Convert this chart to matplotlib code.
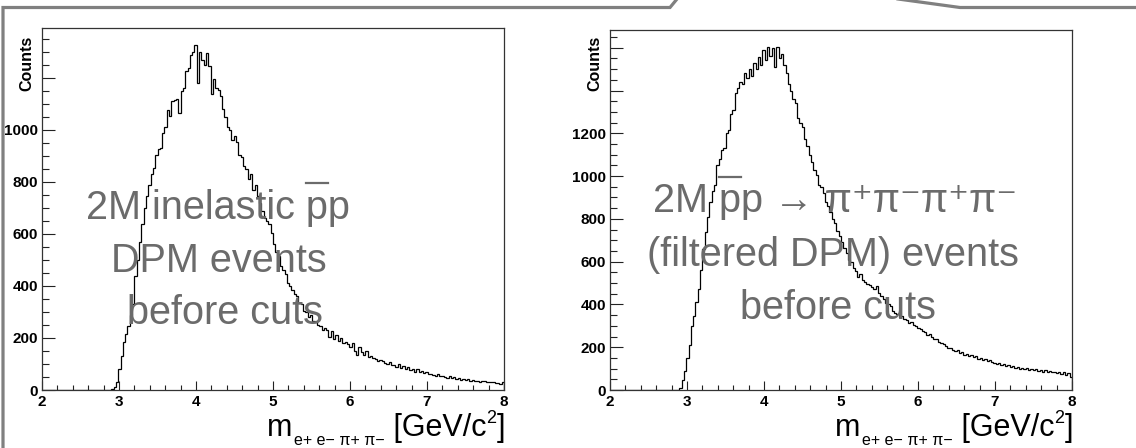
import numpy as np
import matplotlib
matplotlib.use("Agg")
import matplotlib.pyplot as plt
from matplotlib.lines import Line2D
from matplotlib.ticker import MultipleLocator, FixedLocator

plt.rcParams['font.family'] = ['Liberation Sans', 'DejaVu Sans']

# ---------------- data ----------------
bin_edges = np.linspace(2.0, 8.0, 201)   # 200 bins of 0.03 GeV/c^2

counts_inelastic = [
    0, 0, 0, 0, 0, 0, 0, 0, 0, 0,
    0, 0, 0, 0, 0, 0, 0, 0, 0, 0,
    0, 0, 0, 0, 0, 0, 0, 0, 0, 0,
    5, 10, 30, 80, 130, 185, 215, 245, 290, 330,
    440, 500, 570, 640, 700, 745, 790, 830, 855, 905,
    925, 930, 990, 1010, 1075, 1055, 1110, 1115, 1120, 1065,
    1150, 1160, 1225, 1240, 1290, 1300, 1327, 1180, 1300, 1270,
    1250, 1295, 1245, 1140, 1195, 1160, 1155, 1130, 1080, 1050,
    1010, 1000, 960, 975, 955, 905, 895, 860, 850, 810,
    830, 770, 790, 745, 720, 690, 660, 650, 640, 605,
    560, 530, 515, 475, 460, 445, 410, 400, 385, 370,
    360, 335, 330, 305, 300, 280, 290, 265, 262, 250,
    245, 230, 238, 232, 205, 225, 195, 210, 188, 200,
    180, 185, 175, 165, 180, 150, 135, 165, 145, 135,
    150, 128, 130, 122, 118, 112, 115, 110, 105, 100,
    108, 95, 98, 90, 100, 85, 92, 80, 88, 75,
    82, 70, 80, 68, 72, 65, 68, 60, 62, 58,
    55, 60, 52, 55, 50, 48, 52, 45, 50, 42,
    46, 40, 44, 38, 42, 36, 40, 34, 36, 32,
    35, 33, 30, 32, 29, 30, 27, 28, 22, 30,
]

counts_4pi = [
    0, 0, 0, 0, 0, 0, 0, 0, 0, 0,
    0, 0, 0, 0, 0, 0, 0, 0, 0, 0,
    0, 0, 0, 0, 0, 0, 0, 0, 0, 0,
    10, 45, 90, 150, 210, 300, 345, 410, 470, 560,
    660, 740, 810, 880, 930, 960, 1050, 1080, 1120, 1130,
    1200, 1215, 1290, 1310, 1390, 1410, 1440, 1430, 1480, 1460,
    1500, 1470, 1530, 1500, 1555, 1520, 1590, 1545, 1605, 1560,
    1600, 1510, 1605, 1550, 1570, 1520, 1480, 1430, 1400, 1360,
    1340, 1270, 1250, 1230, 1175, 1140, 1100, 1065, 1030, 1005,
    960, 950, 920, 880, 860, 830, 800, 780, 745, 720,
    690, 665, 640, 610, 600, 570, 555, 530, 540, 515,
    505, 495, 490, 480, 470, 485, 455, 440, 425, 405,
    400, 395, 370, 360, 355, 340, 345, 330, 325, 315,
    320, 305, 300, 290, 285, 275, 270, 258, 262, 250,
    240, 238, 225, 220, 215, 205, 198, 195, 185, 180,
    185, 172, 178, 165, 170, 160, 165, 152, 158, 145,
    150, 140, 145, 135, 140, 130, 128, 122, 125, 118,
    120, 112, 118, 108, 112, 104, 108, 100, 105, 97,
    102, 95, 99, 92, 96, 90, 94, 86, 92, 84,
    88, 82, 86, 80, 84, 76, 82, 72, 78, 60,
]

xticks = [2, 3, 4, 5, 6, 7, 8]
xticklabels = ['2', '3', '4', '5', '6', '7', '8']
left_yticks = [0, 200, 400, 600, 800, 1000, 1200]
left_yticklabels = ['0', '200', '400', '600', '800', '1000', '']
right_yticks = [0, 200, 400, 600, 800, 1000, 1200, 1400, 1600]
right_yticklabels = ['0', '200', '400', '600', '800', '1000', '1200', '', '']

left_lines = ["2M inelastic pp", "DPM events", "before cuts"]
right_lines = ["2M pp \u2192 \u03c0\u207a\u03c0\u207b\u03c0\u207a\u03c0\u207b",
               "(filtered DPM) events", "before cuts"]
ylabel_text = "Counts"

# ---------------- layout ----------------
W, H = 1136, 448
fig = plt.figure(figsize=(W / 100, H / 100), dpi=100)


def fx(x):
    return x / W


def fy(y):
    return 1 - y / H


GRAY_TXT = '#6b6b6b'
GRAY_BOX = '#808080'
TICK_FS = 11

panels = [
    dict(x0=42, top=28, counts=counts_inelastic, ymax=1392,
         yt=left_yticks, ytl=left_yticklabels),
    dict(x0=610, top=30, counts=counts_4pi, ymax=1683,
         yt=right_yticks, ytl=right_yticklabels),
]

axes = []
for p in panels:
    ax = fig.add_axes([fx(p['x0']), fy(390), 462 / W, (390 - p['top']) / H])
    ax.stairs(p['counts'], bin_edges, color='black', lw=0.9)
    ax.set_xlim(2, 8)
    ax.set_ylim(0, p['ymax'])
    ax.xaxis.set_major_locator(FixedLocator(xticks))
    ax.set_xticklabels(xticklabels, fontweight='bold', fontsize=TICK_FS)
    ax.xaxis.set_minor_locator(MultipleLocator(0.2))
    ax.yaxis.set_major_locator(FixedLocator(p['yt']))
    ax.set_yticklabels(p['ytl'], fontweight='bold', fontsize=TICK_FS)
    ax.yaxis.set_minor_locator(MultipleLocator(50))
    ax.tick_params(axis='x', which='major', direction='in', length=6.5,
                   width=0.8, pad=3.5, top=False, color='#222222')
    ax.tick_params(axis='x', which='minor', direction='in', length=3.4,
                   width=0.8, top=False, color='#222222')
    ax.tick_params(axis='y', which='major', direction='in', length=9.5,
                   width=0.8, pad=3, right=False, color='#222222')
    ax.tick_params(axis='y', which='minor', direction='in', length=5,
                   width=0.8, right=False, color='#222222')
    for s in ax.spines.values():
        s.set_color('#333333')
        s.set_linewidth(0.9)
    axes.append(ax)
    fig.text(fx(p['x0'] - 15), fy(36), ylabel_text, rotation=90,
             ha='center', va='top', fontsize=11.5, fontweight='bold')

# callout outline
fig.add_artist(Line2D([fx(677), fx(670), fx(3), fx(3)],
                      [fy(-1), fy(7.5), fy(7.5), fy(449)],
                      transform=fig.transFigure, color=GRAY_BOX, lw=2.3,
                      solid_joinstyle='miter'))
fig.add_artist(Line2D([fx(898), fx(960), fx(1137)],
                      [fy(-1), fy(7.5), fy(7.5)],
                      transform=fig.transFigure, color=GRAY_BOX, lw=2.3,
                      solid_joinstyle='miter'))

# overlay texts
FS = 28.5
left_cx = [218, 219, 225]
left_base = [219, 272, 324]
right_cx = [835, 833, 838]
right_base = [212, 266, 319]
ltexts = [fig.text(fx(cx), fy(b), s, ha='center', va='baseline',
                   fontsize=FS, color=GRAY_TXT, zorder=10)
          for s, cx, b in zip(left_lines, left_cx, left_base)]
rtexts = [fig.text(fx(cx), fy(b), s, ha='center', va='baseline',
                   fontsize=FS, color=GRAY_TXT, zorder=10)
          for s, cx, b in zip(right_lines, right_cx, right_base)]

fig.canvas.draw()
renderer = fig.canvas.get_renderer()


def text_width(s, size, weight='normal'):
    t = fig.text(0, 0, s, fontsize=size, fontweight=weight)
    w = t.get_window_extent(renderer).width
    t.remove()
    return w


wp = text_width("p", FS)
# overline on first p of "pp" (left)
bb = ltexts[0].get_window_extent(renderer)
x_first_p = bb.x1 - text_width("pp", FS)
fig.add_artist(Line2D([x_first_p / W, (x_first_p + wp) / W],
                      [fy(left_base[0] - 36)] * 2, transform=fig.transFigure,
                      color=GRAY_TXT, lw=1.6, zorder=11))
bb = rtexts[0].get_window_extent(renderer)
x_first_p = bb.x0 + text_width("2M p", FS) - wp
fig.add_artist(Line2D([x_first_p / W, (x_first_p + wp) / W],
                      [fy(right_base[0] - 35)] * 2, transform=fig.transFigure,
                      color=GRAY_TXT, lw=1.6, zorder=11))

# x-axis titles: m_{e+ e- pi+ pi-} [GeV/c^2], right aligned to axis end
pieces = [("m", 22, 0), (" ", 6, 0), ("e+ e\u2212 \u03c0+ \u03c0\u2212", 11.5, 9),
          (" [GeV/c", 22, 0), ("2", 13, -13), ("]", 22, 0)]
widths = [text_width(s, fs) for s, fs, dy in pieces]
total = sum(widths)
for p in panels:
    xr = p['x0'] + 462 + 1
    x = xr - total
    for (s, fs, dy), w in zip(pieces, widths):
        fig.text(fx(x), fy(436 + dy), s, fontsize=fs, ha='left',
                 va='baseline', color='black')
        x += w

fig.savefig("out.png", dpi=100)
